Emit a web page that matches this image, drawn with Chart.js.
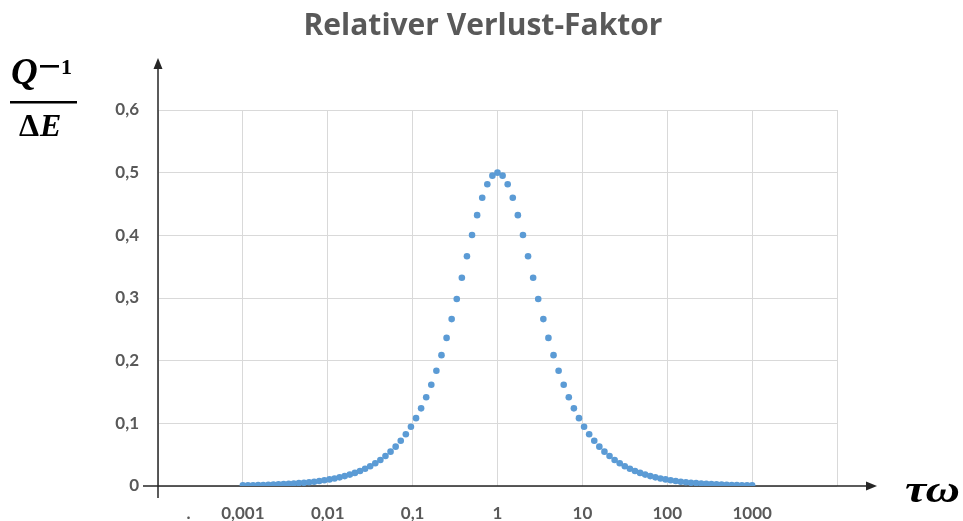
<!DOCTYPE html>
<html lang="de">
<head>
<meta charset="utf-8">
<title>Relativer Verlust-Faktor</title>
<script src="https://cdn.jsdelivr.net/npm/chart.js@4"></script>
<style>
  html, body { margin: 0; padding: 0; background: #fff; }
</style>
</head>
<body>
<canvas id="grafico" width="963" height="521"></canvas>
<script>
// log10(tau*omega) der Messpunkte, 0,001 ... 1000
const logTauOmega = [
  -3, -2.94, -2.88, -2.82, -2.76, -2.7, -2.64, -2.58, -2.52, -2.46,
  -2.4, -2.34, -2.28, -2.22, -2.16, -2.1, -2.04, -1.98, -1.92, -1.86,
  -1.8, -1.74, -1.68, -1.62, -1.56, -1.5, -1.44, -1.38, -1.32, -1.26,
  -1.2, -1.14, -1.08, -1.02, -0.96, -0.9, -0.84, -0.78, -0.72, -0.66,
  -0.6, -0.54, -0.48, -0.42, -0.36, -0.3, -0.24, -0.18, -0.12, -0.06,
  0,
  0.06, 0.12, 0.18, 0.24, 0.3, 0.36, 0.42, 0.48, 0.54, 0.6,
  0.66, 0.72, 0.78, 0.84, 0.9, 0.96, 1.02, 1.08, 1.14, 1.2,
  1.26, 1.32, 1.38, 1.44, 1.5, 1.56, 1.62, 1.68, 1.74, 1.8,
  1.86, 1.92, 1.98, 2.04, 2.1, 2.16, 2.22, 2.28, 2.34, 2.4,
  2.46, 2.52, 2.58, 2.64, 2.7, 2.76, 2.82, 2.88, 2.94, 3
];

// Q^-1 / dE
const verlust = [
  0.0010, 0.0011, 0.0013, 0.0015, 0.0017, 0.0020, 0.0023, 0.0026, 0.0030, 0.0035,
  0.0040, 0.0046, 0.0052, 0.0060, 0.0069, 0.0079, 0.0091, 0.0105, 0.0120, 0.0138,
  0.0158, 0.0182, 0.0209, 0.0240, 0.0275, 0.0316, 0.0363, 0.0416, 0.0478, 0.0548,
  0.0628, 0.0721, 0.0826, 0.0946, 0.1083, 0.1239, 0.1416, 0.1615, 0.1839, 0.2088,
  0.2363, 0.2663, 0.2984, 0.3322, 0.3667, 0.4006, 0.4322, 0.4599, 0.4815, 0.4952,
  0.5,
  0.4952, 0.4815, 0.4599, 0.4322, 0.4006, 0.3667, 0.3322, 0.2984, 0.2663, 0.2363,
  0.2088, 0.1839, 0.1615, 0.1416, 0.1239, 0.1083, 0.0946, 0.0826, 0.0721, 0.0628,
  0.0548, 0.0478, 0.0416, 0.0363, 0.0316, 0.0275, 0.0240, 0.0209, 0.0182, 0.0158,
  0.0138, 0.0120, 0.0105, 0.0091, 0.0079, 0.0069, 0.0060, 0.0052, 0.0046, 0.0040,
  0.0035, 0.0030, 0.0026, 0.0023, 0.0020, 0.0017, 0.0015, 0.0013, 0.0011, 0.0010
];

const xTickWerte = [-4, -3.64, -3, -2, -1, 0, 1, 2, 3, 4];
const xTickTexte = ["", ".", "0,001", "0,01", "0,1", "1", "10", "100", "1000", ""];
const yTickTexte = ["0", "0,1", "0,2", "0,3", "0,4", "0,5", "0,6"];

const titel = "Relativer Verlust-Faktor";

/* =========================
   ACHSEN, PFEILE, BESCHRIFTUNG
========================= */
const achsen = {
  id: "achsen",
  beforeDatasetsDraw(chart) {
    const { ctx, scales: { x, y } } = chart;
    const x0 = x.getPixelForValue(-4);
    const y0 = y.getPixelForValue(0);

    ctx.save();
    ctx.strokeStyle = "#262626";
    ctx.fillStyle = "#262626";
    ctx.lineWidth = 1.5;
    ctx.beginPath();
    ctx.moveTo(x0 - 15, y0);
    ctx.lineTo(868, y0);
    ctx.moveTo(x0, y0 + 12);
    ctx.lineTo(x0, 66);
    ctx.stroke();

    // Pfeilspitzen
    ctx.beginPath();
    ctx.moveTo(877, y0);
    ctx.lineTo(866, y0 - 4.5);
    ctx.lineTo(866, y0 + 4.5);
    ctx.closePath();
    ctx.fill();
    ctx.beginPath();
    ctx.moveTo(x0, 58);
    ctx.lineTo(x0 - 4.5, 69);
    ctx.lineTo(x0 + 4.5, 69);
    ctx.closePath();
    ctx.fill();
    ctx.restore();
  },
  afterDraw(chart) {
    const ctx = chart.ctx;
    ctx.save();

    // Titel
    ctx.fillStyle = "#595959";
    ctx.font = "bold 30px 'Open Sans'";
    ctx.textAlign = "center";
    ctx.textBaseline = "alphabetic";
    ctx.fillText(titel, 483, 35);

    // y-Achsenbeschriftung: Q^-1 / ΔE
    ctx.fillStyle = "#000";
    ctx.textAlign = "left";
    ctx.font = "bold italic 37px 'Liberation Serif'";
    ctx.fillText("Q", 11, 84);
    ctx.fillRect(40, 65, 19, 2.6);             // Minuszeichen im Exponenten
    ctx.font = "bold 22px 'Liberation Serif'";
    ctx.fillText("1", 61, 74);
    ctx.fillRect(10, 101, 67, 2.5);            // Bruchstrich
    ctx.font = "bold 32px 'Liberation Serif'";
    ctx.fillText("\u0394", 19, 136);
    const wDelta = ctx.measureText("\u0394").width;
    ctx.font = "bold italic 32px 'Liberation Serif'";
    ctx.fillText("E", 19 + wDelta + 1, 136);

    // x-Achsenbeschriftung: τω
    ctx.font = "bold italic 37px 'Liberation Serif'";
    const w = ctx.measureText("\u03C4\u03C9").width;
    ctx.translate(905, 502);
    ctx.scale(55 / w, 1);
    ctx.fillText("\u03C4\u03C9", 0, 0);
    ctx.restore();
  }
};

/* =========================
   DIAGRAMM
========================= */
const punkte = logTauOmega.map((lx, i) => ({ x: lx, y: verlust[i] }));

new Chart(document.getElementById("grafico"), {
  type: "scatter",
  data: {
    datasets: [{
      data: punkte,
      backgroundColor: "#5b9bd5",
      borderWidth: 0,
      pointRadius: 3.3,
      pointHoverRadius: 3.3
    }]
  },
  options: {
    responsive: false,
    animation: false,
    layout: { padding: { top: 110, right: 126, bottom: 0, left: 0 } },
    plugins: {
      legend: { display: false },
      tooltip: { enabled: false }
    },
    scales: {
      x: {
        type: "linear",
        min: -4,
        max: 4,
        afterBuildTicks: s => { s.ticks = xTickWerte.map(v => ({ value: v })); },
        afterFit: s => { s.height = 35; },
        border: { display: false },
        grid: {
          color: c => (c.tick && c.tick.value === -3.64) ? "rgba(0,0,0,0)" : "#d9d9d9",
          drawTicks: false
        },
        ticks: {
          padding: 17,
          maxRotation: 0,
          autoSkip: false,
          color: "#595959",
          font: { family: "Lato", size: 17, weight: "bold" },
          callback: (v, i) => xTickTexte[i]
        }
      },
      y: {
        min: 0,
        max: 0.6,
        afterFit: s => { s.width = 158; },
        border: { display: false },
        grid: { color: "#d9d9d9", drawTicks: false },
        ticks: {
          stepSize: 0.1,
          padding: 19,
          color: "#595959",
          font: { family: "Lato", size: 17, weight: "bold" },
          callback: (v, i) => yTickTexte[i]
        }
      }
    }
  },
  plugins: [achsen]
});
</script>
</body>
</html>
